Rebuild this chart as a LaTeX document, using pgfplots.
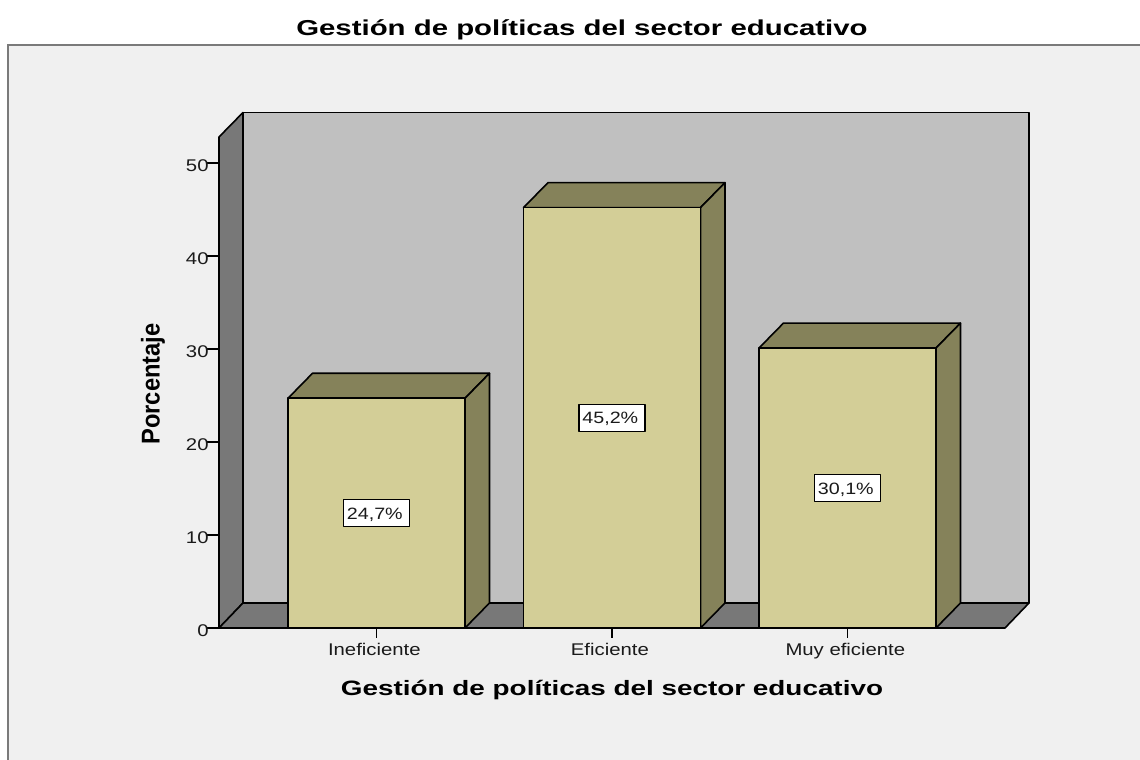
\documentclass[border=0pt]{standalone}
\usepackage{fontspec}
\setmainfont{Liberation Sans}
\newfontfamily\tickfont[FakeStretch=1.2]{Liberation Sans}
\newfontfamily\titlefont[FakeStretch=1.36]{Liberation Sans Bold}
\newfontfamily\xlabfont[FakeStretch=1.34]{Liberation Sans Bold}
\newfontfamily\ylabfont[FakeStretch=0.92]{Liberation Sans Bold}
\usepackage{pgfplots}
\pgfplotsset{compat=1.18}
\definecolor{panel}{HTML}{F0F0F0}
\definecolor{framec}{HTML}{7A7A7A}
\definecolor{wall}{HTML}{C0C0C0}
\definecolor{wallside}{HTML}{787878}
\definecolor{barf}{HTML}{D3CE97}
\definecolor{bars}{HTML}{85825A}
\definecolor{inkc}{HTML}{1A1A1A}
\begin{document}
\begin{tikzpicture}[x=0.75pt,y=0.75pt]
\path[use as bounding box,fill=white] (-219,-132) rectangle (921,628);
\fill[panel] (-211,-132) rectangle (921,583);
\draw[framec,line width=1.5pt] (-211,-132) -- (-211,583) -- (921,583);
\begin{axis}[
  at={(0,0)},anchor=south west,
  scale only axis,
  width=589.5pt,height=368.25pt,
  xmin=-0.6688,xmax=2.6688,ymin=0,ymax=52.796,
  clip=false,
  axis x line*=bottom,axis y line*=left,
  axis line style={-,line width=1.2pt,black},
  xtick={0,1,2},xticklabels={Ineficiente,Eficiente,Muy eficiente},
  ytick={0,10,20,30,40,50},
  /pgf/number format/assume math mode=true,
  tick style={black,line width=1pt},
  x tick style={/pgfplots/major tick length=7.5pt},
  y tick style={/pgfplots/major tick length=9.5pt},
  tick align=outside,
  ticklabel style={font=\tickfont\fontsize{12.7pt}{14pt}\selectfont,text=inkc},
  xticklabel style={yshift=-3.9pt,xshift=-1.6pt},
  yticklabel style={yshift=-2.2pt},
  title={Gestión de políticas del sector educativo},
  title style={at={(axis description cs:0.4618,1.2016)},anchor=center,font=\titlefont\fontsize{16.2pt}{18pt}\selectfont,text=black},
  xlabel={Gestión de políticas del sector educativo},
  xlabel style={at={(axis description cs:0.5,-0.1263)},anchor=center,font=\xlabfont\fontsize{15.6pt}{18pt}\selectfont,text=black},
  ylabel={Porcentaje},
  ylabel style={at={(axis description cs:-0.084,0.497)},anchor=center,font=\ylabfont\fontsize{19.3pt}{22pt}\selectfont,text=black},
]
\pgfplotsset{every axis plot/.append style={line width=1.2pt,line join=round}}
% chart walls
\addplot[draw=black,fill=wall] coordinates {(-0.5669,2.688)(2.7707,2.688)(2.7707,55.43)(-0.5669,55.43)} -- cycle;
\addplot[draw=black,fill=wallside] coordinates {(-0.6688,0)(-0.5669,2.688)(-0.5669,55.43)(-0.6688,52.796)} -- cycle;
\addplot[draw=black,fill=wallside] coordinates {(-0.6688,0)(2.6688,0)(2.7707,2.688)(-0.5669,2.688)} -- cycle;
% bar tops and sides
\addplot[draw=black,fill=bars] coordinates {(-0.3758,24.7)(0.3758,24.7)(0.4798,27.388)(-0.2718,27.388)} -- cycle;
\addplot[draw=black,fill=bars] coordinates {(0.3758,0)(0.4798,2.688)(0.4798,27.388)(0.3758,24.7)} -- cycle;
\addplot[draw=black,fill=bars] coordinates {(0.6242,45.2)(1.3758,45.2)(1.4798,47.888)(0.7282,47.888)} -- cycle;
\addplot[draw=black,fill=bars] coordinates {(1.3758,0)(1.4798,2.688)(1.4798,47.888)(1.3758,45.2)} -- cycle;
\addplot[draw=black,fill=bars] coordinates {(1.6242,30.1)(2.3758,30.1)(2.4798,32.788)(1.7282,32.788)} -- cycle;
\addplot[draw=black,fill=bars] coordinates {(2.3758,0)(2.4798,2.688)(2.4798,32.788)(2.3758,30.1)} -- cycle;
% bar fronts
\addplot[ybar,bar width=0.7516,draw=black,fill=barf] coordinates {(0,24.7)(1,45.2)(2,30.1)};
% data labels
\addplot[draw=none,no markers,point meta=explicit symbolic,
  nodes near coords={\hspace*{-2.5pt}\pgfplotspointmeta},
  nodes near coords align={center},
  every node near coord/.append style={fill=white,draw=black,line width=0.9pt,inner sep=0pt,
    text height=9pt,text depth=0pt,
    minimum width=49.5pt,minimum height=20pt,text=inkc,font=\tickfont\fontsize{12.3pt}{14pt}\selectfont}]
  coordinates {(0,12.35)[24,7\%] (1,22.6)[45,2\%] (2,15.05)[30,1\%]};
\end{axis}
\end{tikzpicture}
\end{document}
